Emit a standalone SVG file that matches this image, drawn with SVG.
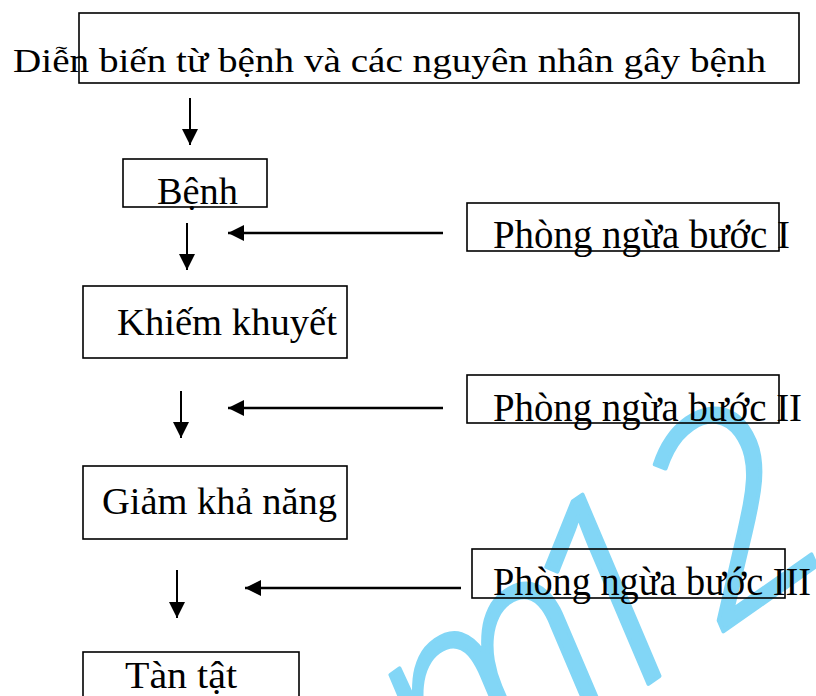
<svg xmlns="http://www.w3.org/2000/svg" width="816" height="696" viewBox="0 0 816 696">
<defs>
<style>
.box{fill:none;stroke:#000;stroke-width:1.6}
.t{font-family:"Liberation Serif","Times New Roman",serif;fill:#000}
.v{stroke:#000;stroke-width:2;fill:none}
.h{stroke:#000;stroke-width:2.6;fill:none}
.wm{font-family:"Open Sans","Noto Sans",sans-serif;font-style:italic;font-weight:300;fill:#82d6f6;stroke:#82d6f6;stroke-width:4;stroke-linejoin:round}
</style>
<marker id="ah" viewBox="0 0 16 16" refX="16" refY="8" markerWidth="16" markerHeight="16" markerUnits="userSpaceOnUse" orient="auto">
<path d="M0,0 L16,8 L0,16 z" fill="#000"/>
</marker>
</defs>
<rect width="816" height="696" fill="#fff"/>
<g id="watermark">
<text class="wm" font-size="270" transform="translate(411,850) rotate(-35)" x="45" y="-12">m<tspan dx="-45" dy="12">12</tspan></text>
</g>
<g id="connectors">
<line class="v" x1="190" y1="98" x2="190" y2="145" marker-end="url(#ah)"/>
<line class="v" x1="187" y1="223" x2="187" y2="270" marker-end="url(#ah)"/>
<line class="v" x1="181" y1="391" x2="181" y2="438" marker-end="url(#ah)"/>
<line class="v" x1="177" y1="570" x2="177" y2="618" marker-end="url(#ah)"/>
<line class="h" x1="443" y1="233" x2="228" y2="233" marker-end="url(#ah)"/>
<line class="h" x1="443" y1="408" x2="228" y2="408" marker-end="url(#ah)"/>
<line class="h" x1="461" y1="588" x2="245" y2="588" marker-end="url(#ah)"/>
</g>
<g id="n-dienbien">
<rect class="box" x="79" y="13" width="720" height="70"/>
<text class="t" x="13" y="72" font-size="33" textLength="753" lengthAdjust="spacingAndGlyphs">Diễn biến từ bệnh và các nguyên nhân gây bệnh</text>
</g>
<g id="n-benh">
<rect class="box" x="123" y="159" width="144" height="48"/>
<text class="t" x="157" y="204" font-size="37" textLength="81" lengthAdjust="spacingAndGlyphs">Bệnh</text>
</g>
<g id="n-pn1">
<rect class="box" x="467" y="203" width="312" height="48"/>
<text class="t" x="493" y="248" font-size="39" textLength="297" lengthAdjust="spacingAndGlyphs">Phòng ngừa bước I</text>
</g>
<g id="n-khiemkhuyet">
<rect class="box" x="83" y="286" width="264" height="72"/>
<text class="t" x="117" y="335" font-size="37" textLength="220" lengthAdjust="spacingAndGlyphs">Khiếm khuyết</text>
</g>
<g id="n-pn2">
<rect class="box" x="467" y="375" width="312" height="48"/>
<text class="t" x="493" y="421" font-size="39" textLength="309" lengthAdjust="spacingAndGlyphs">Phòng ngừa bước II</text>
</g>
<g id="n-giamkhanang">
<rect class="box" x="83" y="466" width="264" height="73"/>
<text class="t" x="102" y="514" font-size="37" textLength="235" lengthAdjust="spacingAndGlyphs">Giảm khả năng</text>
</g>
<g id="n-pn3">
<rect class="box" x="472" y="549" width="313" height="49"/>
<text class="t" x="493" y="595" font-size="39" textLength="318" lengthAdjust="spacingAndGlyphs">Phòng ngừa bước III</text>
</g>
<g id="n-tantat">
<rect class="box" x="83" y="652" width="216" height="60"/>
<text class="t" x="125" y="688" font-size="37" textLength="112" lengthAdjust="spacingAndGlyphs">Tàn tật</text>
</g>
</svg>
